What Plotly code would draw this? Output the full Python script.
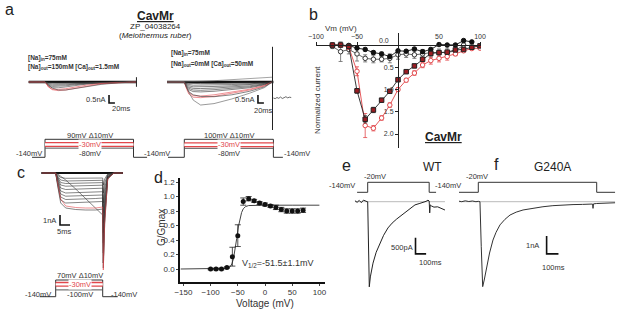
import math
import plotly.graph_objects as go

W, H = 617, 310
FONT = "Liberation Sans, Arial, sans-serif"
RED = "#e2474b"
DKRED = "#9b1c22"
PROTO_LOG_OFFSET = 170  # schematic (log) display of voltage protocols

# ---------------- panel b : normalized I-V ----------------
b_vm = [-80, -70, -60, -50, -40, -30, -20, -10, 0, 10, 20, 30, 40, 50, 60, 70, 80, 90, 100]
b_black_closed = [0.0, 0.0, 0.01, 0.07, 0.1, 0.17, 0.2, 0.26, 0.13, 0.14, 0.09, 0.15, 0.1, -0.01, 0.0, 0.0, -0.1, -0.07, None]
b_black_closed_err = [0.02, 0.02, 0.02, 0.03, 0.03, 0.04, 0.04, 0.04, 0.03, 0.03, 0.03, 0.04, 0.03, 0.02, 0.02, 0.02, 0.02, 0.02, None]
b_black_open = [0.03, 0.15, 0.1, 0.2, 0.3, 0.32, 0.32, 0.3, 0.22, 0.2, 0.22, 0.2, 0.17, 0.17, 0.17, 0.13, 0.0, None, None]
b_black_open_err = [0.05, 0.22, 0.1, 0.16, 0.08, 0.08, 0.06, 0.1, 0.1, 0.08, 0.08, 0.1, 0.1, 0.08, 0.1, 0.1, 0.05, None, None]
b_dkred = [0.0, 0.0, 0.03, 1.03, 1.67, 1.46, 1.24, 1.04, 0.78, 0.6, 0.47, 0.32, 0.19, 0.17, 0.16, 0.11, 0.1, 0.05, 0.02]
b_dkred_err = [0.02, 0.02, 0.03, 0.05, 0.08, 0.06, 0.04, 0.03, 0.03, 0.03, 0.03, 0.03, 0.03, 0.03, 0.03, 0.03, 0.02, 0.02, 0.02]
b_red = [0.0, 0.0, 0.05, 0.59, 1.81, 1.87, 1.64, 1.35, 1.0, 0.79, 0.63, 0.45, 0.35, 0.3, 0.26, 0.2, 0.13, 0.08, 0.07]
b_red_err = [0.02, 0.02, 0.05, 0.1, 0.27, 0.06, 0.05, 0.05, 0.04, 0.04, 0.05, 0.06, 0.08, 0.08, 0.08, 0.04, 0.03, 0.02, 0.02]
b_xticks = [-100, -50, 50, 100]
b_yticks = [0.5, 1.0, 1.5, 2.0]

# ---------------- panel d : G/Gmax ----------------
d_v = [-100, -90, -80, -70, -60, -50, -40, -30, -20, -10, 0, 10, 20, 30, 40, 50, 60, 70]
d_g = [0.0, 0.0, 0.0, 0.02, 0.17, 0.46, 0.93, 0.97, 0.94, 0.91, 0.89, 0.87, 0.85, 0.82, 0.8, 0.8, 0.8, 0.81]
d_err = [0.01, 0.01, 0.01, 0.01, 0.13, 0.15, 0.05, 0.03, 0.02, 0.02, 0.02, 0.02, 0.03, 0.03, 0.03, 0.03, 0.03, 0.03]
d_fit_v = [-155, -75, -68, -64, -61, -58, -55, -52, -49, -46, -43, -40, -36, -30, -20, 0, 50, 100]
d_fit_g = [0, 0, 0.01, 0.03, 0.07, 0.14, 0.26, 0.42, 0.58, 0.7, 0.78, 0.83, 0.86, 0.875, 0.88, 0.88, 0.88, 0.88]
d_xticks = [-150, -100, -50, 0, 50, 100]
d_yticks = [0.0, 0.2, 0.4, 0.6, 0.8, 1.0, 1.2]

# ---------------- panel a (left) : currents, ms / nA ----------------
aL_t = [-55, 0, 5, 12, 25, 45, 70, 100, 140, 190, 250, 300, 310]
aL_I = [
    [0, 0, -0.02, -0.05, -0.07, -0.07, -0.06, -0.05, -0.03, -0.02, -0.01, 0, 0],
    [0, 0, -0.04, -0.1, -0.14, -0.14, -0.12, -0.09, -0.06, -0.03, -0.01, 0, 0],
    [0, 0, -0.06, -0.15, -0.21, -0.21, -0.18, -0.13, -0.08, -0.04, -0.02, 0, 0],
    [0, 0, -0.08, -0.2, -0.28, -0.28, -0.24, -0.17, -0.1, -0.05, -0.02, 0, 0],
    [0, 0, -0.1, -0.26, -0.36, -0.36, -0.31, -0.22, -0.13, -0.06, -0.02, 0, 0],
    [0, 0, -0.12, -0.32, -0.45, -0.46, -0.42, -0.32, -0.2, -0.09, -0.03, 0, 0],
    [0, 0, -0.1, -0.3, -0.48, -0.54, -0.5, -0.4, -0.26, -0.12, -0.04, 0, 0],
    [0, 0, -0.06, -0.2, -0.38, -0.5, -0.5, -0.42, -0.3, -0.15, -0.05, 0, 0],
]
aL_colors = ["#444", "#444", "#444", "#444", "#444", RED, RED, "#444"]
aL_artifact_t = [310, 310]
aL_artifact_I = [0.3, -0.3]

# ---------------- panel a (right) ----------------
aR_t = [-58, 0, 6, 15, 30, 55, 100, 160, 220, 270, 296]
aR_I = [
    [0, 0, -0.04, -0.08, -0.1, -0.1, -0.09, -0.08, -0.06, -0.03, 0],
    [0, 0, -0.08, -0.16, -0.2, -0.2, -0.19, -0.16, -0.12, -0.06, 0],
    [0, 0, -0.12, -0.24, -0.3, -0.3, -0.28, -0.24, -0.18, -0.09, 0],
    [0, 0, -0.16, -0.32, -0.4, -0.41, -0.38, -0.32, -0.24, -0.12, 0],
    [0, 0, -0.2, -0.4, -0.5, -0.52, -0.48, -0.4, -0.3, -0.15, 0],
    [0, 0, -0.24, -0.48, -0.6, -0.62, -0.58, -0.48, -0.36, -0.18, 0],
    [0, 0, -0.3, -0.65, -0.85, -0.88, -0.8, -0.64, -0.45, -0.22, 0],
    [0, 0, -0.35, -0.75, -0.95, -0.98, -0.9, -0.72, -0.5, -0.25, 0],
    [0, 0, -0.28, -0.6, -0.8, -0.9, -0.92, -0.8, -0.58, -0.3, 0],
    [0, 0, -0.25, -0.63, -1.13, -1.44, -1.35, -1.06, -0.7, -0.35, 0],
    [0, 0, 0.0, 0.01, 0.02, 0.04, 0.08, 0.14, 0.2, 0.26, 0.3],
]
aR_colors = ["#333", "#333", "#333", "#333", "#333", "#333", RED, RED, "#333", "#555", "#666"]
aR_artifact_t = [297, 297]
aR_artifact_I = [2.2, -3.0]
aR_after_t = [300, 306, 312, 318, 324, 330, 336, 342, 348, 354, 360]
aR_after_I = [-1.0, -1.04, -0.97, -1.02, -0.94, -1.03, -0.98, -0.92, -0.99, -0.95, -0.97]

# ---------------- panel c ----------------
c_t = [-7, 0, 1, 2.5, 5, 10, 15, 20, 23.5, 23.8, 24.5, 26, 29, 33.6]
c_I = [
    [0, 0, -0.2, -0.45, -0.53, -0.53, -0.52, -0.5, -0.5, -1.2, -0.6, -0.1, 0, 0],
    [0, 0, -0.3, -0.7, -0.8, -0.78, -0.76, -0.74, -0.73, -2.0, -1.0, -0.15, 0, 0],
    [0, 0, -0.4, -0.95, -1.05, -1.03, -1.0, -0.98, -0.96, -3.0, -1.5, -0.2, 0, 0],
    [0, 0, -0.5, -1.2, -1.32, -1.3, -1.27, -1.24, -1.22, -4.0, -2.0, -0.3, 0, 0],
    [0, 0, -0.6, -1.5, -1.65, -1.62, -1.58, -1.55, -1.52, -5.0, -2.5, -0.35, 0, 0],
    [0, 0, -0.8, -1.8, -2.0, -1.97, -1.93, -1.9, -1.87, -6.0, -3.0, -0.4, 0, 0],
    [0, 0, -0.9, -2.1, -2.32, -2.3, -2.26, -2.22, -2.2, -7.0, -3.5, -0.45, 0, 0],
    [0, 0, -1.0, -2.4, -2.65, -2.63, -2.6, -2.55, -2.5, -8.0, -4.0, -0.5, 0, 0],
    [0, 0, -1.2, -2.7, -3.0, -2.97, -2.93, -2.9, -2.85, -9.0, -4.5, -0.6, 0, 0],
    [0, 0, -0.1, -0.3, -0.7, -1.6, -2.6, -3.5, -4.2, -9.0, -4.5, -0.5, 0, 0],
    [0, 0, -1.3, -3.0, -3.5, -3.65, -3.7, -3.7, -3.6, -9.5, -5.0, -0.6, 0, 0],
    [0, 0, -1.0, -2.6, -3.3, -3.45, -3.5, -3.5, -3.4, -9.7, -5.0, -0.6, 0, 0],
]
c_colors = ["#333"] * 11 + [RED]

# ---------------- panel e (WT) ----------------
e_t = [-120, -100, -80, -60, -40, -20, -5, 0, 8, 15, 25, 50, 80, 116, 150, 191, 230, 274, 320, 368,
       405, 446, 485, 522, 550, 569, 580, 585, 590, 600, 625, 660, 695, 729]
e_I = [0.03, -0.02, 0.04, -0.03, 0.05, 0.01, 0.0, 0.0, -1.5, -2.66, -2.35, -1.92, -1.58, -1.29, -1.05, -0.82,
       -0.67, -0.54, -0.42, -0.31, -0.2, -0.1, -0.06, -0.03, 0.01, 0.05, 0.02, -0.35, -0.1, -0.13, -0.17, -0.16,
       -0.22, -0.26]

# ---------------- panel f (G240A) ----------------
f_t = [-163, -140, -110, -80, -50, -20, 0, 14, 25, 37, 50, 71, 95, 124, 150, 183, 225, 268, 320, 378, 450,
       546, 630, 715, 800, 880, 940, 965, 969, 973, 1000, 1050, 1100, 1155]
f_I = [0.03, 0.0, 0.05, 0.01, 0.04, 0.0, 0.02, 0.0, -2.5, -4.72, -4.35, -3.61, -2.85, -2.13, -1.7, -1.29,
       -0.98, -0.74, -0.58, -0.46, -0.37, -0.28, -0.22, -0.18, -0.16, -0.15, -0.14, -0.13, -0.37, -0.12, -0.1,
       -0.09, -0.07, -0.06]

# ---------------- voltage protocols (ms, mV) ----------------
protoAL_t = [-44, 0, 300, 346]
protoAL_v = dict(hold=-140, top=90, bottom=-80, red=-30)
protoAR_t = [-55, 0, 300, 332]
protoAR_v = dict(hold=-140, top=100, bottom=-80, red=-30)
protoC_t = [-8, 0, 23.5, 31]
protoC_v = dict(hold=-140, top=70, bottom=-100, red=-30)
protoE_t = [-100, 0, 580, 645]
protoF_t = [-163, 0, 1000, 1155]
protoEF_v = dict(hold=-140, top=-20)

# ================= figure construction =================
fig = go.Figure()
axes_layout = {}
counter = [0]
ann = []


def lin(v1, p1, v2, p2):
    s = (v2 - v1) / (p2 - p1)
    return lambda p: v1 + (p - p1) * s


def new_axes(xdom, ydom, xr, yr, ytype="linear"):
    counter[0] += 1
    n = counter[0]
    s = "" if n == 1 else str(n)
    axes_layout["xaxis" + s] = dict(domain=[xdom[0] / W, xdom[1] / W], range=xr, anchor="y" + s,
                                    visible=False, fixedrange=True, automargin=False)
    axes_layout["yaxis" + s] = dict(domain=[1 - ydom[1] / H, 1 - ydom[0] / H], range=yr, anchor="x" + s,
                                    visible=False, fixedrange=True, type=ytype, automargin=False)
    return ("x" + s, "y" + s)


def trace_axes(xdom, ydom, t0px, kx, y0px, ky):
    fx = lin(0, t0px, 1, t0px + kx)
    fy = lin(0, y0px, 1, y0px - ky)
    return new_axes(xdom, ydom, [fx(xdom[0]), fx(xdom[1])], [fy(ydom[1]), fy(ydom[0])])


def proto_axes(xdom, ydom, t0px, kx, vhold, phold, vtop, ptop):
    fx = lin(0, t0px, 1, t0px + kx)
    fy = lin(math.log10(vhold + PROTO_LOG_OFFSET), phold, math.log10(vtop + PROTO_LOG_OFFSET), ptop)
    return new_axes(xdom, ydom, [fx(xdom[0]), fx(xdom[1])], [fy(ydom[1]), fy(ydom[0])], ytype="log")


def line(ax, x, y, color="#222", width=0.8):
    fig.add_trace(go.Scatter(x=x, y=y, mode="lines", line=dict(color=color, width=width),
                             xaxis=ax[0], yaxis=ax[1], hoverinfo="skip", showlegend=False))


def draw_protocol(ax, tp, v, family=True):
    o = PROTO_LOG_OFFSET
    t0, ton, toff, t1 = tp
    line(ax, [t0, ton, ton, toff, toff, t1],
         [v["hold"] + o, v["hold"] + o, v["top"] + o, v["top"] + o, v["hold"] + o, v["hold"] + o], "#333", 1)
    if family:
        line(ax, [ton, toff], [v["bottom"] + o, v["bottom"] + o], "#555", 1)
        line(ax, [ton, toff], [v["red"] + o, v["red"] + o], RED, 5)
        line(ax, [ton, toff], [v["red"] + o, v["red"] + o], "white", 2.4)


def txt(s, x, y, size=8, color="#222", xanchor="center", angle=0, bg="rgba(0,0,0,0)"):
    ann.append(dict(text=s, x=x / W, y=1 - y / H, xref="paper", yref="paper", showarrow=False,
                    xanchor=xanchor, yanchor="middle", textangle=angle, bgcolor=bg, borderpad=0,
                    font=dict(family=FONT, size=size, color=color)))


# ---------- panel a left ----------
axL = trace_axes([20, 150], [40, 130], 45, 0.295, 82, 16)
line(axL, [aL_t[0], aL_t[-1]], [0, 0], "#111", 2.6)
for I, col in zip(aL_I, aL_colors):
    line(axL, aL_t, I, col, 0.6)
line(axL, aL_artifact_t, aL_artifact_I, "#222", 1)
line(axL, [217, 217, 237], [-0.81, -1.31, -1.31], "#111", 1.6)  # scale bar 0.5 nA / 20 ms
pAL = proto_axes([20, 150], [128, 162], 45, 0.295, -140, 157.3, 90, 139.3)
draw_protocol(pAL, protoAL_t, protoAL_v)

# ---------- panel a right ----------
axR = trace_axes([160, 300], [40, 135], 184.3, 0.297, 82, 16)
line(axR, [aR_t[0], 300], [0, 0], "#111", 2.6)
for I, col in zip(aR_I, aR_colors):
    line(axR, aR_t, I, col, 0.6)
line(axR, aR_artifact_t, aR_artifact_I, "#222", 1)
line(axR, aR_after_t, aR_after_I, "#444", 0.8)
line(axR, [248, 248, 268], [-0.81, -1.31, -1.31], "#111", 1.6)
pAR = proto_axes([160, 300], [128, 162], 184.3, 0.297, -140, 157.3, 100, 139.3)
draw_protocol(pAR, protoAR_t, protoAR_v)

# ---------- panel c ----------
axC = trace_axes([35, 130], [160, 276], 55.7, 2.0, 173, 10)
line(axC, [c_t[0], c_t[-1]], [0, 0], "#111", 1.8)
for I, col in zip(c_I, c_colors):
    line(axC, c_t, I, col, 0.6)
line(axC, [2.15, 2.15, 7.15], [-4.2, -5.2, -5.2], "#111", 1.6)
pC = proto_axes([30, 130], [272, 300], 55.7, 2.0, -140, 296.7, 70, 280)
draw_protocol(pC, protoC_t, protoC_v)

# ---------- panel e ----------
axE = trace_axes([350, 450], [195, 295], 367.7, 0.106, 201.7, 32)
line(axE, [e_t[0], e_t[-1]], [0, 0], "#bbb", 1)
line(axE, e_t, e_I, "#222", 1)
line(axE, [451, 451, 551], [-1.13, -1.63, -1.63], "#111", 1.6)
pE = proto_axes([330, 450], [176, 198], 367.7, 0.106, -140, 192.3, -20, 182.3)
draw_protocol(pE, protoE_t, protoEF_v, family=False)

# ---------- panel f ----------
axF = trace_axes([452, 617], [195, 295], 478.3, 0.1184, 201.7, 18)
line(axF, [f_t[0], f_t[-1]], [0, 0], "#bbb", 1)
line(axF, f_t, f_I, "#333", 1)
line(axF, [577, 577, 677], [-1.9, -2.9, -2.9], "#111", 1.6)
pF = proto_axes([452, 617], [176, 198], 478.3, 0.1184, -140, 192.3, -20, 182.3)
draw_protocol(pF, protoF_t, protoEF_v, family=False)

# ---------- panel b ----------
bxv = lin(-100, 316, 100, 480)   # value at pixel
byv = lin(0, 45, 1.0, 89.5)
bxp = lin(316, -100, 480, 100)   # pixel at value
counter[0] += 1
nb = str(counter[0])
axes_layout["xaxis" + nb] = dict(domain=[316 / W, 481 / W], range=[bxv(316), bxv(481)], side="top",
                                 anchor="free", position=1 - 45 / H, showline=True, linecolor="#222",
                                 linewidth=1, ticks="outside", ticklen=3, tickcolor="#222",
                                 tickvals=b_xticks, tickfont=dict(family=FONT, size=7, color="#333"),
                                 showgrid=False, zeroline=False, fixedrange=True, automargin=False)
axes_layout["yaxis" + nb] = dict(domain=[1 - 148 / H, 1 - 33 / H], range=[byv(148), byv(33)],
                                 anchor="free", position=bxp(0) / W, side="left", showline=True,
                                 linecolor="#222", linewidth=1, ticks="outside", ticklen=3, tickcolor="#222",
                                 tickvals=b_yticks, ticktext=["%.1f" % v for v in b_yticks],
                                 tickfont=dict(family=FONT, size=7, color="#333"),
                                 showgrid=False, zeroline=False, fixedrange=True, automargin=False)
axb = ("x" + nb, "y" + nb)


def b_series(y, err, lcol, mcol, mline, ecol, symbol):
    fig.add_trace(go.Scatter(
        x=b_vm, y=y, mode="lines+markers", xaxis=axb[0], yaxis=axb[1], showlegend=False, hoverinfo="skip",
        line=dict(color=lcol, width=0.9),
        marker=dict(symbol=symbol, size=4.5, color=mcol, line=dict(color=mline, width=1)),
        error_y=dict(type="data", array=err, color=ecol, thickness=0.8, width=2)))


b_series(b_black_open, b_black_open_err, "#555", "white", "#333", "#666", "circle")
b_series(b_black_closed, b_black_closed_err, "#111", "#111", "#111", "#444", "circle")
b_series(b_red, b_red_err, RED, "white", RED, RED, "circle")
b_series(b_dkred, b_dkred_err, "#222", DKRED, "#222", "#333", "square")

# ---------- panel d ----------
dxv = lin(0, 265, 50, 292.2)
dyv = lin(0, 269, 1.2, 182)
counter[0] += 1
nd = str(counter[0])
axes_layout["xaxis" + nd] = dict(domain=[180 / W, 325 / W], range=[dxv(180), dxv(325)], anchor="y" + nd,
                                 showline=True, linecolor="#111", linewidth=1.6, ticks="outside", ticklen=2,
                                 tickvals=d_xticks, tickfont=dict(family=FONT, size=8, color="#333"),
                                 showgrid=False, zeroline=False, fixedrange=True, automargin=False)
axes_layout["yaxis" + nd] = dict(domain=[1 - 282 / H, 1 - 178 / H], range=[dyv(282), dyv(178)],
                                 anchor="x" + nd, showline=True, linecolor="#111", linewidth=1.6,
                                 ticks="outside", ticklen=2, tickvals=d_yticks, tickformat=".1f",
                                 tickfont=dict(family=FONT, size=8, color="#333"),
                                 showgrid=False, zeroline=False, fixedrange=True, automargin=False)
fig.add_trace(go.Scatter(x=d_fit_v, y=d_fit_g, mode="lines", line=dict(color="#444", width=1),
                         xaxis="x" + nd, yaxis="y" + nd, showlegend=False, hoverinfo="skip"))
fig.add_trace(go.Scatter(x=d_v, y=d_g, mode="markers", xaxis="x" + nd, yaxis="y" + nd, showlegend=False,
                         hoverinfo="skip", marker=dict(size=5, color="#111"),
                         error_y=dict(type="data", array=d_err, color="#222", thickness=0.8, width=3)))

# ---------- text ----------
# panel letters
txt("a", 9, 10, 16)
txt("b", 313, 15, 16)
txt("c", 21, 172, 16)
txt("d", 158, 177, 16)
txt("e", 346, 165, 16)
txt("f", 496, 164, 16)

# panel a
txt("<b><u>CavMr</u></b>", 155, 16, 12)
txt("ZP_04038264", 155, 26.5, 8)
txt("(<i>Meiothermus ruber</i>)", 155, 35, 8)
txt("<b>[Na]<sub>in</sub>=75mM</b>", 27, 58, 6.5, "#333", "left")
txt("<b>[Na]<sub>out</sub>=150mM [Ca]<sub>out</sub>=1.5mM</b>", 27, 67, 6.5, "#333", "left")
txt("<b>[Na]<sub>in</sub>=75mM</b>", 170, 53, 6.5, "#333", "left")
txt("<b>[Na]<sub>out</sub>=0mM [Ca]<sub>out</sub>=50mM</b>", 170, 64, 6.5, "#333", "left")
txt("0.5nA", 107, 99, 7.5, "#333", "right")
txt("20ms", 121, 109, 7.5, "#333")
txt("0.5nA", 256, 99, 7.5, "#333", "right")
txt("20ms", 263, 110, 7.5, "#333")
txt("90mV Δ10mV", 90, 135, 7.5, "#333")
txt("-30mV", 90, 144, 7.5, RED, bg="white")
txt("-80mV", 90, 153, 7.5, "#333")
txt("-140mV", 29, 153, 7.5, "#333")
txt("-140mV", 157, 153, 7.5, "#333")
txt("100mV Δ10mV", 229, 135, 7.5, "#333")
txt("-30mV", 229, 144, 7.5, RED, bg="white")
txt("-80mV", 229, 153, 7.5, "#333")
txt("-140mV", 297, 153, 7.5, "#333")

# panel b
txt("Vm (mV)", 341, 29, 8, "#333")
txt("Normalized current", 318, 100, 8, "#333", angle=-90)
txt("0.0", 384, 40, 7, "#333")
txt("<b><u>CavMr</u></b>", 443, 137, 12)

# panel c
txt("1nA", 57, 220, 7.5, "#333", "right")
txt("5ms", 64, 231, 7.5, "#333")
txt("70mV Δ10mV", 80, 275, 7.5, "#333")
txt("-30mV", 80, 284, 7.5, RED, bg="white")
txt("-100mV", 80, 294, 7.5, "#333")
txt("-140mV", 38, 294, 7.5, "#333")
txt("-140mV", 124, 294, 7.5, "#333")

# panel d
txt("G/Gmax", 161, 228, 10, "#333", angle=-90)
txt("Voltage (mV)", 265, 303, 10, "#333")
txt("V<sub>1/2</sub>=-51.5±1.1mV", 241, 263, 9, "#333", "left")

# panel e / f
txt("WT", 432, 167, 12)
txt("-20mV", 375, 176, 7.5, "#333")
txt("-140mV", 342, 185, 7.5, "#333")
txt("500pA", 402, 247, 7.5, "#333")
txt("100ms", 430, 262, 7.5, "#333")
txt("G240A", 552, 167, 12)
txt("-20mV", 477, 176, 7.5, "#333")
txt("-140mV", 448, 185, 7.5, "#333")
txt("1nA", 532, 245, 7.5, "#333")
txt("100ms", 553, 267, 7.5, "#333")

fig.update_layout(width=W, height=H, margin=dict(l=0, r=0, t=0, b=0, pad=0, autoexpand=False),
                  paper_bgcolor="white", plot_bgcolor="rgba(0,0,0,0)", showlegend=False, annotations=ann,
                  font=dict(family=FONT), **axes_layout)
fig.write_html("out.html", config={"displayModeBar": False},
               post_script="document.body.style.margin='0';document.body.style.padding='0';")
